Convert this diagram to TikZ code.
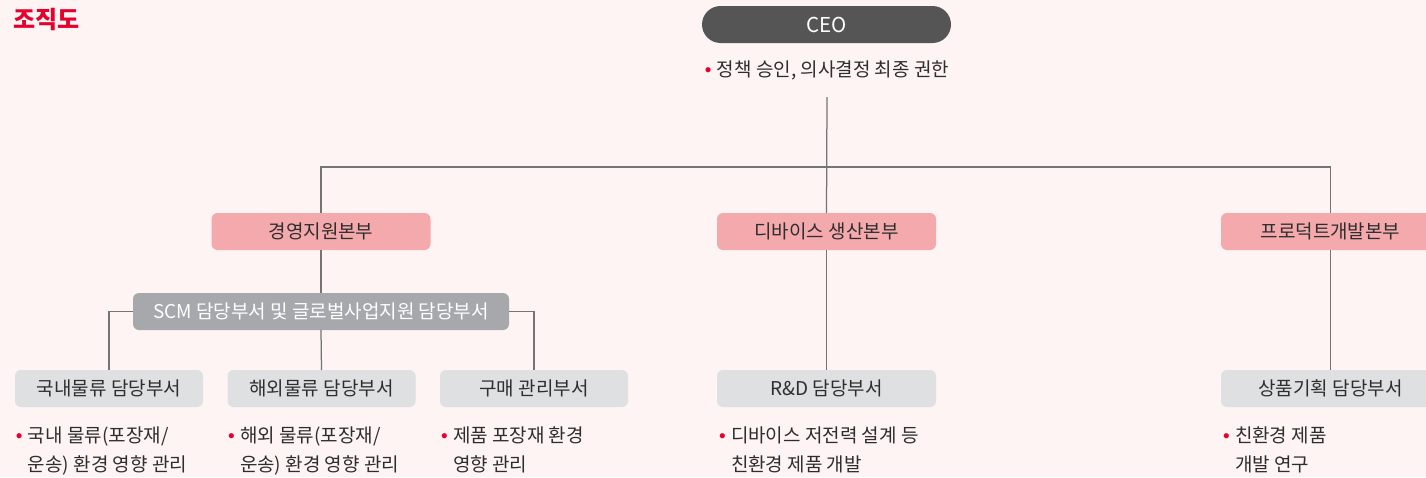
\documentclass[tikz,border=0pt]{standalone}
\usepackage{fontspec}
\setmainfont{Noto Sans CJK KR}
\newfontfamily\bulfont{Liberation Sans}
\definecolor{bgc}{HTML}{FDF4F3}
\definecolor{ceoc}{HTML}{555555}
\definecolor{pinkc}{HTML}{F4A9AD}
\definecolor{scmc}{HTML}{A6A8AB}
\definecolor{lgc}{HTML}{DEE0E2}
\definecolor{txtc}{HTML}{2E2E2E}
\definecolor{bulred}{HTML}{E6002D}
\definecolor{linec}{HTML}{747474}
\newcommand\bul{\makebox[12pt][l]{\bulfont\textcolor{bulred}{•}}}
\begin{document}
\begin{tikzpicture}[x=1pt,y=-1pt,
  every node/.style={inner sep=0pt,outer sep=0pt,text=txtc,font=\fontsize{19}{29.5}\selectfont},
  box/.style={rectangle,rounded corners=6pt,minimum height=37pt},
  hqbox/.style={box,fill=pinkc,minimum width=219pt},
  subbox/.style={box,fill=lgc,minimum width=188pt},
  conn/.style={draw=linec,line width=1.25pt},
  bultext/.style={anchor=north west,align=left}
]
\useasboundingbox (0,0) rectangle (1426,477);
\clip (0,0) rectangle (1426,477);
\fill[bgc] (0,0) rectangle (1426,477);

\node[anchor=west,text=bulred,font=\fontsize{24}{24}\selectfont\bfseries] (title) at (13,19.5) {조직도};

\node[rectangle,rounded corners=18.5pt,fill=ceoc,minimum width=249pt,minimum height=37pt,text=white,font=\fontsize{20.5}{24}\selectfont] (ceo) at (826.5,24.5) {CEO};
\node (ceot) at (827,70) {\bul 정책 승인, 의사결정 최종 권한};
\coordinate (ceol) at (827,97);

\node[hqbox] (hq1) at (321,231.5) {경영지원본부};
\node[hqbox] (hq2) at (826.5,231.5) {디바이스 생산본부};
\node[hqbox] (hq3) at (1330.5,231.5) {프로덕트개발본부};

\node[box,fill=scmc,minimum width=376pt,text=white] (scm) at (321,311.5) {SCM 담당부서 및 글로벌사업지원 담당부서};

\node[subbox] (d1) at (109,388.5) {국내물류 담당부서};
\node[subbox] (d2) at (321.5,388.5) {해외물류 담당부서};
\node[subbox] (d3) at (534,388.5) {구매 관리부서};
\node[subbox,minimum width=219pt] (d4) at (826.5,388.5) {R\&D 담당부서};
\node[subbox,minimum width=219pt] (d5) at (1330.5,388.5) {상품기획 담당부서};

\node[bultext] (b1) at (16,426.5) {\bul 국내 물류(포장재/\\\hspace*{12pt}운송) 환경 영향 관리};
\node[bultext] (b2) at (228,426.5) {\bul 해외 물류(포장재/\\\hspace*{12pt}운송) 환경 영향 관리};
\node[bultext] (b3) at (441,426.5) {\bul 제품 포장재 환경\\\hspace*{12pt}영향 관리};
\node[bultext] (b4) at (719,426.5) {\bul 디바이스 저전력 설계 등\\\hspace*{12pt}친환경 제품 개발};
\node[bultext] (b5) at (1223,426.5) {\bul 친환경 제품\\\hspace*{12pt}개발 연구};

\draw[conn] (ceol) -- (hq2.north);
\draw[conn] (hq1.north) -- ++(0,-46) -| (hq3.north);
\draw[conn] (hq1.south) -- (scm.north);
\draw[conn] (scm.south) -- (d2.north);
\draw[conn] (scm.west) -| (d1.north);
\draw[conn] (scm.east) -| (d3.north);
\draw[conn] (hq2.south) -- (d4.north);
\draw[conn] (hq3.south) -- (d5.north);
\end{tikzpicture}
\end{document}
